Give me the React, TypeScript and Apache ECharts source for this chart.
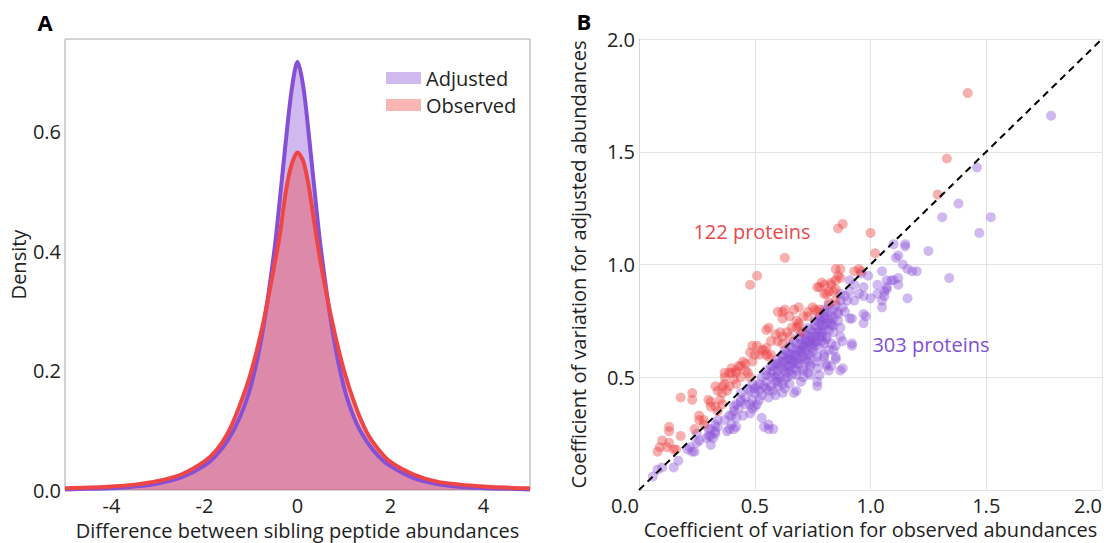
import React, { useEffect, useRef } from "react";
import * as echarts from "echarts";

const FONT = '"Open Sans", "Noto Sans", sans-serif';

// Panel A: density of differences between sibling peptide abundances
const diffX = [
  -5, -4.5, -4, -3.5, -3, -2.5, -2, -1.75, -1.5, -1.25, -1, -0.75, -0.5, -0.375, -0.25, -0.125,
  0, 0.125, 0.25, 0.375, 0.5, 0.75, 1, 1.25, 1.5, 1.75, 2, 2.5, 3, 3.5, 4, 4.5, 5,
];
const adjustedDensity = [
  0.001, 0.002, 0.003, 0.006, 0.011, 0.021, 0.041, 0.058, 0.083, 0.12, 0.175, 0.265, 0.4, 0.49, 0.585, 0.67,
  0.717, 0.675, 0.59, 0.495, 0.405, 0.268, 0.172, 0.115, 0.08, 0.056, 0.04, 0.02, 0.01, 0.005, 0.003, 0.002, 0.001,
];
const observedDensity = [
  0.003, 0.004, 0.006, 0.009, 0.015, 0.026, 0.048, 0.066, 0.095, 0.14, 0.197, 0.275, 0.375, 0.43, 0.5, 0.545,
  0.565, 0.55, 0.505, 0.44, 0.38, 0.28, 0.2, 0.14, 0.095, 0.067, 0.047, 0.026, 0.014, 0.009, 0.006, 0.004, 0.003,
];
const densityTicksX = [-4, -2, 0, 2, 4];
const densityTicksY = [0, 0.2, 0.4, 0.6];

// Panel B: [CV observed, CV adjusted]
const increasedCV = [
  [1.42, 1.76], [1.33, 1.47], [1.29, 1.31], [0.88, 1.18], [0.86, 1.16], [1.0, 1.14], [0.63, 1.03], [1.02, 1.05], [0.51, 0.95], [0.48, 0.91],
  [0.85, 0.98], [0.87, 0.98], [0.93, 0.97], [0.95, 0.98], [0.86, 0.95], [0.87, 0.94], [0.85, 0.93], [0.83, 0.91], [0.96, 0.97],
  [0.8, 0.91], [0.78, 0.9], [0.82, 0.88], [0.79, 0.92], [0.81, 0.87], [0.85, 0.89], [0.83, 0.92],
  [0.77, 0.9], [0.8, 0.87], [0.84, 0.88], [0.82, 0.83], [0.85, 0.84], [0.75, 0.81], [0.77, 0.79],
  [0.69, 0.81], [0.67, 0.8], [0.62, 0.79], [0.63, 0.8], [0.65, 0.77], [0.68, 0.75], [0.69, 0.74], [0.66, 0.72],
  [0.73, 0.77], [0.76, 0.8], [0.78, 0.8], [0.71, 0.77], [0.73, 0.79],
  [0.56, 0.72], [0.55, 0.71], [0.6, 0.79], [0.62, 0.76], [0.69, 0.73], [0.59, 0.69], [0.61, 0.7], [0.62, 0.68], [0.64, 0.7],
  [0.57, 0.66], [0.54, 0.62], [0.56, 0.59], [0.68, 0.72], [0.7, 0.7], [0.6, 0.66], [0.62, 0.65], [0.65, 0.68],
  [0.51, 0.64], [0.55, 0.63], [0.49, 0.64], [0.52, 0.6], [0.55, 0.6], [0.57, 0.6], [0.48, 0.61], [0.5, 0.6], [0.53, 0.62],
  [0.45, 0.57], [0.46, 0.56], [0.43, 0.55], [0.49, 0.57], [0.47, 0.52], [0.44, 0.55], [0.42, 0.53], [0.4, 0.52],
  [0.4, 0.54], [0.39, 0.52], [0.37, 0.52], [0.37, 0.5], [0.42, 0.52], [0.44, 0.5], [0.41, 0.49], [0.46, 0.53], [0.48, 0.5],
  [0.36, 0.46], [0.39, 0.46], [0.42, 0.47], [0.33, 0.46], [0.37, 0.47], [0.34, 0.44], [0.36, 0.43], [0.38, 0.44],
  [0.18, 0.41], [0.23, 0.43], [0.23, 0.4], [0.3, 0.4], [0.31, 0.39], [0.31, 0.37], [0.33, 0.37], [0.34, 0.35], [0.35, 0.4], [0.36, 0.38],
  [0.26, 0.33], [0.26, 0.31], [0.28, 0.31], [0.28, 0.29], [0.24, 0.27],
  [0.13, 0.28], [0.13, 0.26], [0.18, 0.24], [0.1, 0.22], [0.13, 0.21], [0.09, 0.19], [0.12, 0.19], [0.15, 0.18], [0.16, 0.18], [0.08, 0.17],
];

const decreasedCV = [
  [1.78, 1.66], [1.46, 1.43], [1.38, 1.27], [1.31, 1.21], [1.52, 1.21], [1.47, 1.14],
  [1.1, 1.09], [1.15, 1.09], [1.15, 1.08], [1.25, 1.06], [1.12, 1.04], [1.14, 1.0], [1.16, 0.98], [1.2, 0.97], [1.05, 0.97], [0.99, 0.95],
  [1.34, 0.94], [1.03, 0.91], [1.07, 0.93], [1.09, 0.93], [1.12, 0.94], [1.12, 0.91], [1.07, 0.89], [1.06, 0.86], [1.05, 0.84], [1.05, 0.81],
  [1.16, 0.85], [0.97, 0.9], [0.97, 0.86], [1.0, 0.85], [0.98, 0.77], [0.97, 0.74],
  [1.11, 1.03], [1.18, 0.97], [1.1, 0.93], [1.07, 0.9], [0.96, 0.96],
  [0.91, 0.93], [0.93, 0.91], [0.91, 0.88], [0.95, 0.87], [0.87, 0.87], [0.89, 0.86], [1.03, 0.87], [1.06, 0.88],
  [0.93, 0.84], [0.91, 0.76], [0.97, 0.78], [0.86, 0.79], [0.84, 0.76], [0.87, 0.72], [0.8, 0.76], [0.8, 0.79], [0.78, 0.77],
  [0.82, 0.71], [0.83, 0.73], [0.92, 0.64], [0.87, 0.68], [0.88, 0.66], [0.83, 0.65], [0.84, 0.62], [0.85, 0.59], [0.8, 0.59],
  [0.81, 0.56], [0.77, 0.57], [0.77, 0.54], [0.74, 0.56], [0.74, 0.51], [0.87, 0.53], [0.68, 0.53], [0.71, 0.54], [0.65, 0.53],
  [0.92, 0.65], [0.92, 0.76], [0.88, 0.54], [0.77, 0.48], [0.77, 0.46],
  [0.79, 0.75], [0.77, 0.7], [0.75, 0.68], [0.72, 0.66], [0.71, 0.63], [0.68, 0.62], [0.65, 0.6], [0.62, 0.59], [0.59, 0.56], [0.57, 0.55], [0.55, 0.53],
  [0.81, 0.68], [0.8, 0.65], [0.78, 0.63], [0.75, 0.63], [0.74, 0.6], [0.71, 0.59], [0.68, 0.56], [0.66, 0.56], [0.64, 0.52], [0.71, 0.5], [0.78, 0.51], [0.82, 0.53],
  [0.71, 0.53], [0.74, 0.55], [0.73, 0.57], [0.77, 0.59], [0.8, 0.6], [0.82, 0.62], [0.85, 0.58], [0.81, 0.55], [0.83, 0.55], [0.85, 0.64], [0.81, 0.67], [0.79, 0.7],
  [0.56, 0.41], [0.59, 0.42], [0.62, 0.43], [0.51, 0.38], [0.67, 0.43], [0.68, 0.44], [0.63, 0.45], [0.65, 0.47],
  [0.42, 0.38], [0.43, 0.36], [0.4, 0.33], [0.45, 0.33], [0.48, 0.34], [0.39, 0.27], [0.42, 0.28],
  [0.31, 0.24], [0.33, 0.25], [0.3, 0.27], [0.34, 0.28], [0.22, 0.19], [0.25, 0.21],
  [0.53, 0.32], [0.56, 0.29], [0.58, 0.27], [0.56, 0.27], [0.54, 0.28],
  [0.51, 0.46], [0.48, 0.44], [0.44, 0.43], [0.46, 0.41], [0.44, 0.39], [0.41, 0.37], [0.44, 0.4], [0.48, 0.38], [0.5, 0.37], [0.49, 0.36],
  [0.41, 0.35], [0.39, 0.33], [0.42, 0.32], [0.37, 0.31], [0.4, 0.29],
  [0.34, 0.31], [0.33, 0.29], [0.31, 0.27], [0.33, 0.26], [0.3, 0.24], [0.32, 0.23], [0.31, 0.2],
  [0.38, 0.26], [0.41, 0.27], [0.25, 0.25], [0.26, 0.22], [0.29, 0.23],
  [0.23, 0.17], [0.24, 0.17], [0.21, 0.18], [0.17, 0.13], [0.15, 0.1], [0.08, 0.09], [0.06, 0.06], [0.1, 0.1],
  [0.6, 0.58], [0.62, 0.6], [0.64, 0.61], [0.66, 0.63], [0.68, 0.65], [0.7, 0.67], [0.72, 0.69], [0.74, 0.71], [0.76, 0.73], [0.78, 0.74], [0.8, 0.77], [0.82, 0.79], [0.84, 0.8],
  [0.61, 0.55], [0.63, 0.57], [0.65, 0.58], [0.67, 0.6], [0.69, 0.62], [0.71, 0.64], [0.73, 0.66], [0.75, 0.7], [0.77, 0.72], [0.79, 0.73], [0.81, 0.74], [0.83, 0.77],
  [0.58, 0.53], [0.6, 0.51], [0.62, 0.54], [0.64, 0.55], [0.66, 0.58], [0.69, 0.58], [0.7, 0.61], [0.72, 0.62], [0.74, 0.64], [0.76, 0.66], [0.78, 0.68], [0.8, 0.71], [0.83, 0.74],
  [0.57, 0.5], [0.59, 0.48], [0.61, 0.5], [0.63, 0.49], [0.66, 0.51], [0.67, 0.54], [0.69, 0.56], [0.72, 0.58], [0.75, 0.61], [0.76, 0.64], [0.79, 0.66], [0.84, 0.7], [0.86, 0.75],
  [0.53, 0.5], [0.55, 0.48], [0.54, 0.46], [0.57, 0.46], [0.52, 0.44], [0.56, 0.44], [0.6, 0.46], [0.62, 0.47], [0.64, 0.5], [0.68, 0.51], [0.7, 0.48], [0.73, 0.52],
  [0.47, 0.45], [0.49, 0.47], [0.5, 0.43], [0.53, 0.42], [0.46, 0.38], [0.49, 0.4], [0.52, 0.4],
  [0.82, 0.82], [0.8, 0.8], [0.78, 0.76], [0.76, 0.75], [0.85, 0.82], [0.87, 0.84], [0.88, 0.81], [0.86, 0.78], [0.9, 0.84], [0.89, 0.79], [0.84, 0.73],
  [0.63, 0.62], [0.65, 0.64], [0.67, 0.66], [0.69, 0.68], [0.71, 0.7], [0.73, 0.72], [0.7, 0.65], [0.74, 0.68], [0.72, 0.67],
  [0.58, 0.55], [0.6, 0.56], [0.62, 0.57], [0.64, 0.58], [0.66, 0.6], [0.68, 0.6], [0.7, 0.62], [0.72, 0.64], [0.74, 0.66], [0.76, 0.68], [0.78, 0.7], [0.8, 0.73], [0.82, 0.76],
  [0.6, 0.53], [0.63, 0.53], [0.65, 0.55], [0.67, 0.57], [0.7, 0.58], [0.73, 0.6], [0.75, 0.65], [0.77, 0.66], [0.79, 0.68],
  [0.55, 0.51], [0.57, 0.52], [0.59, 0.5], [0.52, 0.47], [0.5, 0.45], [0.55, 0.45], [0.58, 0.44], [0.6, 0.48],
];
const identityLine = [[0, 0], [2, 2]];
const cvTicks = [0, 0.5, 1.0, 1.5, 2.0];

const PURPLE = "#8650d6";
const RED = "#ee4646";

export default function App() {
  const ref = useRef<HTMLDivElement>(null);
  useEffect(() => {
    if (!ref.current) return;
    const chart = echarts.init(ref.current, null, { renderer: "svg" });
    const axisText = { fontSize: 20, color: "#222", fontFamily: FONT };
    const isTick = (v: number, list: number[]) => list.some((t) => Math.abs(t - v) < 1e-6);
    const option: any = {
      animation: false,
      textStyle: { fontFamily: FONT },
      grid: [
        { left: 65, top: 39, width: 465, height: 451, show: true, borderColor: "#a8a8a8", borderWidth: 1, backgroundColor: "transparent", outerBoundsMode: "none" },
        { left: 639, top: 39, width: 463, height: 451, outerBoundsMode: "none" },
      ],
      xAxis: [
        {
          gridIndex: 0, type: "value", min: -5, max: 5, interval: 1,
          axisLine: { show: false }, axisTick: { show: false }, splitLine: { show: false },
          axisLabel: { ...axisText, margin: 5, formatter: (v: number) => (isTick(v, densityTicksX) ? String(v) : "") },
          name: "Difference between sibling peptide abundances", nameLocation: "middle", nameGap: 30,
          nameTextStyle: { ...axisText },
        },
        {
          gridIndex: 1, type: "value", min: 0, max: 2, interval: 0.5,
          axisLine: { show: false }, axisTick: { show: false },
          splitLine: { show: true, lineStyle: { color: "#e3e3e3", width: 1 } },
          axisLabel: { ...axisText, margin: 5, alignMinLabel: "right", alignMaxLabel: "right", formatter: (v: number) => (isTick(v, cvTicks) ? v.toFixed(1) : "") },
          name: "Coefficient of variation for observed abundances", nameLocation: "middle", nameGap: 28,
          nameTextStyle: { ...axisText },
        },
      ],
      yAxis: [
        {
          gridIndex: 0, type: "value", min: 0, max: 0.755, interval: 0.2,
          axisLine: { show: false }, axisTick: { show: false }, splitLine: { show: false },
          axisLabel: { ...axisText, margin: 4, formatter: (v: number) => (isTick(v, densityTicksY) ? v.toFixed(1) : "") },
          name: "Density", nameLocation: "middle", nameGap: 35, nameTextStyle: { ...axisText },
        },
        {
          gridIndex: 1, type: "value", min: 0, max: 2, interval: 0.5,
          axisLine: { show: true, lineStyle: { color: "#d6d6d6" } }, axisTick: { show: false },
          splitLine: { show: true, lineStyle: { color: "#e3e3e3", width: 1 } },
          axisLabel: { ...axisText, margin: 4, showMinLabel: false, formatter: (v: number) => (isTick(v, cvTicks) ? v.toFixed(1) : "") },
          name: "Coefficient of variation for adjusted abundances", nameLocation: "middle", nameGap: 51,
          nameTextStyle: { ...axisText },
        },
      ],
      legend: {
        orient: "vertical", left: 386, top: 68, padding: 0, itemGap: 7, itemWidth: 35, itemHeight: 12,
        textStyle: { ...axisText },
        data: [
          { name: "Adjusted", icon: "rect" },
          { name: "Observed", icon: "rect" },
        ],
      },
      series: [
        {
          name: "Adjusted", type: "line", xAxisIndex: 0, yAxisIndex: 0, smooth: 0.3, symbol: "none",
          data: diffX.map((x, i) => [x, adjustedDensity[i]]),
          itemStyle: { color: "rgba(138,80,214,0.4)" }, lineStyle: { width: 0 },
          areaStyle: { color: "rgba(138,80,214,0.4)", opacity: 1 }, silent: true, z: 1,
        },
        {
          name: "Observed", type: "line", xAxisIndex: 0, yAxisIndex: 0, smooth: 0.3, symbol: "none",
          data: diffX.map((x, i) => [x, observedDensity[i]]),
          itemStyle: { color: "rgba(239,68,68,0.4)" }, lineStyle: { width: 0 },
          areaStyle: { color: "rgba(239,68,68,0.4)", opacity: 1 }, silent: true, z: 2,
        },
        {
          name: "Adjusted KDE", type: "line", xAxisIndex: 0, yAxisIndex: 0, smooth: 0.3, symbol: "none",
          data: diffX.map((x, i) => [x, adjustedDensity[i]]),
          lineStyle: { color: PURPLE, width: 4 }, itemStyle: { color: PURPLE }, z: 3,
        },
        {
          name: "Observed KDE", type: "line", xAxisIndex: 0, yAxisIndex: 0, smooth: 0.3, symbol: "none",
          data: diffX.map((x, i) => [x, observedDensity[i]]),
          lineStyle: { color: RED, width: 4 }, itemStyle: { color: RED }, z: 4,
        },
        {
          name: "303 proteins", type: "scatter", xAxisIndex: 1, yAxisIndex: 1, symbolSize: 10,
          data: decreasedCV, itemStyle: { color: "rgba(138,80,214,0.5)" }, z: 5,
        },
        {
          name: "122 proteins", type: "scatter", xAxisIndex: 1, yAxisIndex: 1, symbolSize: 10,
          data: increasedCV, itemStyle: { color: "rgba(236,66,66,0.52)" }, z: 6,
        },
        {
          name: "y = x", type: "line", xAxisIndex: 1, yAxisIndex: 1, symbol: "none",
          data: identityLine, lineStyle: { color: "#000", width: 2, type: [7, 5] }, z: 7,
        },
      ],
      graphic: [
        { type: "text", x: 45, y: 22, style: { text: "A", font: `bold 22px ${FONT}`, fill: "#000", textAlign: "center", textVerticalAlign: "middle" } },
        { type: "text", x: 584, y: 21, style: { text: "B", font: `bold 22px ${FONT}`, fill: "#000", textAlign: "center", textVerticalAlign: "middle" } },
        { type: "text", x: 752, y: 231, z: 10, style: { text: "122 proteins", font: `20px ${FONT}`, fill: "#e8484a", textAlign: "center", textVerticalAlign: "middle" } },
        { type: "text", x: 931, y: 344, z: 10, style: { text: "303 proteins", font: `20px ${FONT}`, fill: "#7e4fd2", textAlign: "center", textVerticalAlign: "middle" } },
      ],
    };
    chart.setOption(option);
    return () => chart.dispose();
  }, []);
  return <div ref={ref} style={{ position: "fixed", left: 0, top: 0, width: 1110, height: 543, background: "#fff" }} />;
}
